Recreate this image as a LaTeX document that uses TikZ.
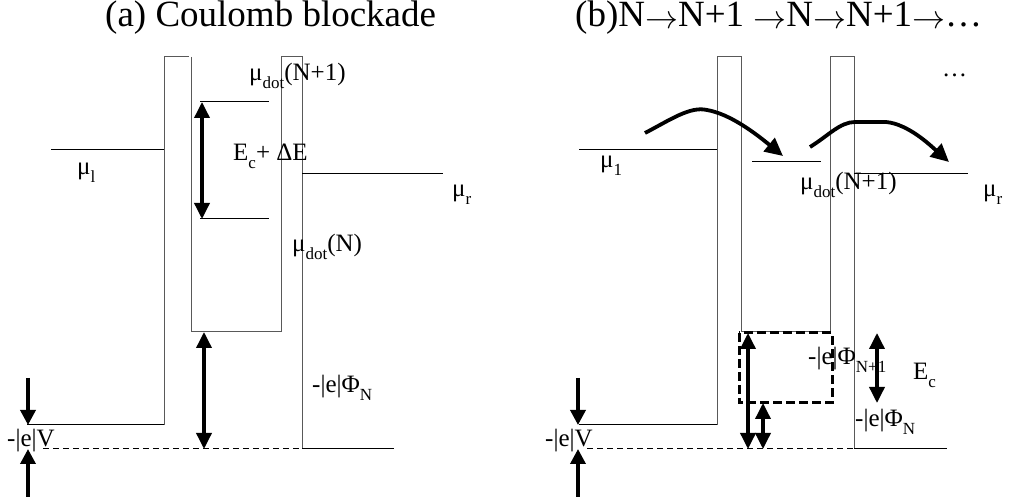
\documentclass[tikz,border=0pt]{standalone}
\usepackage{fontspec}
\setmainfont{Liberation Serif}
\usetikzlibrary{arrows.meta}
\newcommand{\lowsub}[1]{\raisebox{-0.3em}{\fontsize{17}{17}\selectfont #1}}
\newcommand{\tarr}{\raisebox{-2pt}{\resizebox{33pt}{!}{$\rightarrow$}}}
\begin{document}
\begin{tikzpicture}[x=1pt,y=-1pt,
  barrier/.style={draw=black!65,line width=1pt},
  level/.style={draw=black,line width=1pt},
  baseline dash/.style={draw=black,line width=1pt,dash pattern=on 6pt off 4pt},
  dblarrow/.style={line width=3.5pt,{Triangle[width=15pt,length=16pt]}-{Triangle[width=15pt,length=16pt]}},
  onearrow/.style={line width=3.5pt,-{Triangle[width=15pt,length=15pt]}},
  hoparrow/.style={line width=3.8pt,-{Triangle[width=17pt,length=18pt]}},
  dashbox/.style={draw=black,line width=3pt,dash pattern=on 9pt off 4pt},
  lbl/.style={inner sep=0pt,anchor=base west,font=\fontsize{25}{29}\selectfont},
  ttl/.style={inner sep=0pt,anchor=base west,font=\fontsize{37}{41}\selectfont}]
\useasboundingbox (0,0) rectangle (1013,502);

% ---------------- panel (a) ----------------
\node[ttl] (ta) at (105,27) {(a) Coulomb blockade};
% leads and barriers
\draw[level] (27,425) -- (164,425);
\draw[barrier] (164,425) -- (164,57) -- (189,57);
\draw[barrier] (191,57) -- (191,332);
\draw[barrier] (191,332) -- (281,332);
\draw[barrier] (281,332) -- (281,57) -- (302,57) -- (302,449);
\draw[level] (302,449) -- (394,449);
\draw[level] (51,150) -- (164,150);
\draw[level] (302,174) -- (443,174);
\draw[level] (200,102) -- (269,102);
\draw[level] (200,219) -- (269,219);
\draw[baseline dash] (43,449) -- (302,449);
% arrows
\coordinate (a1t) at (202,102); \coordinate (a1b) at (202,219);
\draw[dblarrow] (a1t) -- (a1b);
\coordinate (a2t) at (204,332); \coordinate (a2b) at (204,449);
\draw[dblarrow] (a2t) -- (a2b);
\coordinate (av1s) at (28,378); \coordinate (av1e) at (28,425);
\draw[onearrow] (av1s) -- (av1e);
\coordinate (av2s) at (28,497); \coordinate (av2e) at (28,449);
\draw[onearrow] (av2s) -- (av2e);
% labels
\node[lbl] (la1) at (249,81) {μ\lowsub{dot}(N+1)};
\node[lbl] (la2) at (233,161) {E\lowsub{c}+ ΔE};
\node[lbl] (la3) at (77,175) {μ\lowsub{l}};
\node[lbl] (la4) at (452,197) {μ\lowsub{r}};
\node[lbl] (la5) at (292,252) {μ\lowsub{dot}(N)};
\node[lbl] (la6) at (312,393) {-|e|Φ\lowsub{N}};
\node[lbl] (la7) at (7,447) {-|e|V};

% ---------------- panel (b) ----------------
\node[ttl] (tb) at (575,27) {(b)N\tarr N+1 \tarr N\tarr N+1\tarr…};
\draw[level] (579,425) -- (717,425);
\draw[barrier] (717,425) -- (717,57) -- (741,57) -- (741,332);
\draw[barrier] (741,332) -- (830,332);
\draw[barrier] (830,332) -- (830,57) -- (854,57) -- (854,449);
\draw[level] (854,449) -- (947,449);
\draw[level] (579,150) -- (717,150);
\draw[level] (752,162) -- (821,162);
\draw[level] (854,174) -- (968,174);
\draw[baseline dash] (587,449) -- (854,449);
\draw[dashbox] (739,333) rectangle (832,403);
% arrows
\coordinate (b1t) at (748,333); \coordinate (b1b) at (748,449);
\draw[dblarrow] (b1t) -- (b1b);
\coordinate (b2t) at (763,403); \coordinate (b2b) at (763,449);
\draw[dblarrow] (b2t) -- (b2b);
\coordinate (b3t) at (877,333); \coordinate (b3b) at (877,403);
\draw[dblarrow] (b3t) -- (b3b);
\coordinate (bv1s) at (578,378); \coordinate (bv1e) at (578,425);
\draw[onearrow] (bv1s) -- (bv1e);
\coordinate (bv2s) at (578,497); \coordinate (bv2e) at (578,449);
\draw[onearrow] (bv2s) -- (bv2e);
% hopping arrows
\coordinate (h1s) at (645,133); \coordinate (h1m) at (707,110); \coordinate (h1e) at (783,156);
\draw[hoparrow] (h1s) .. controls (670,120) and (690,106) .. (h1m) .. controls (730,114) and (755,133) .. (h1e);
\coordinate (h2s) at (810,147); \coordinate (h2m) at (855,122); \coordinate (h2n) at (886,122); \coordinate (h2e) at (949,162);
\draw[hoparrow] (h2s) .. controls (828,136) and (840,122) .. (h2m) -- (h2n) .. controls (908,124) and (930,145) .. (h2e);
% labels
\node[lbl] (lb1) at (600,168) {μ\lowsub{1}};
\node[lbl] (lb2) at (800,190) {μ\lowsub{dot}(N+1)};
\node[lbl] (lb3) at (983,197) {μ\lowsub{r}};
\node[lbl] (lb4) at (942,77) {…};
\node[lbl] (lb5) at (808,365) {-|e|Φ\lowsub{N+1}};
\node[lbl] (lb6) at (913,380) {E\lowsub{c}};
\node[lbl] (lb7) at (855,427) {-|e|Φ\lowsub{N}};
\node[lbl] (lb8) at (545,447) {-|e|V};
\end{tikzpicture}
\end{document}
